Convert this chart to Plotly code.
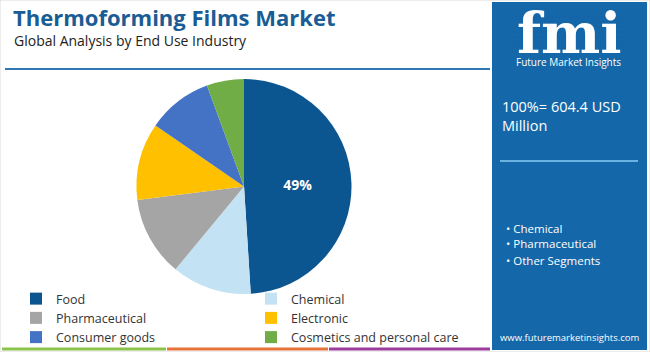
import plotly.graph_objects as go

categories = ["Food", "Chemical", "Pharmaceutical", "Electronic", "Consumer goods", "Cosmetics and personal care"]
shares = [49.0, 12.0, 12.0, 11.6, 9.8, 5.6]
colors = ["#0b5590", "#c3e2f4", "#a5a5a5", "#ffc000", "#4472c4", "#70ad47"]
slice_labels = ["49%", "", "", "", "", ""]

W, H = 650, 352
def px(x):
    return x / W
def py(y):
    return 1 - y / H

fig = go.Figure()
fig.add_trace(go.Pie(
    labels=categories, values=shares, sort=False, direction="clockwise", rotation=0,
    marker=dict(colors=colors, line=dict(width=0)),
    text=slice_labels, texttemplate="%{text}", textinfo="text", textposition="inside",
    insidetextfont=dict(family="Open Sans", size=14, color="white", weight="bold"),
    insidetextorientation="horizontal",
    domain=dict(x=[px(136), px(352)], y=[py(294), py(79)]),
    hoverinfo="label+percent",
))

shapes = []
shapes.append(dict(type="rect", xref="paper", yref="paper", x0=0, x1=1, y0=0, y1=1,
                   line=dict(color="#d9d9d9", width=1), fillcolor="rgba(0,0,0,0)"))
shapes.append(dict(type="line", xref="paper", yref="paper", x0=px(5), x1=px(490), y0=py(69), y1=py(69),
                   line=dict(color="#2f78b4", width=2)))
shapes.append(dict(type="rect", xref="paper", yref="paper", x0=px(492), x1=px(647), y0=py(350), y1=py(2),
                   line=dict(width=0), fillcolor="#1467a8", layer="below"))
shapes.append(dict(type="line", xref="paper", yref="paper", x0=px(500), x1=px(638), y0=py(161), y1=py(161),
                   line=dict(color="#6ab2e2", width=2)))
for x0, x1, c in [(2, 166, "#8bc34a"), (167, 328, "#e8733a"), (329, 490, "#9c3d9e")]:
    shapes.append(dict(type="line", xref="paper", yref="paper", x0=px(x0), x1=px(x1), y0=py(349), y1=py(349),
                       line=dict(color=c, width=3)))

annotations = [
    dict(text="<b>Thermoforming Films Market</b>", x=px(11), y=py(17), xanchor="left", yanchor="middle",
         font=dict(family="Open Sans", size=22, color="#1a5c94")),
    dict(text="Global Analysis by End Use Industry", x=px(12), y=py(40), xanchor="left", yanchor="middle",
         font=dict(family="Open Sans", size=14, color="#222222")),
    dict(text="<b>fmi</b>", x=px(569), y=py(33), xanchor="center", yanchor="middle",
         font=dict(family="DejaVu Serif", size=56, color="white")),
    dict(text="Future Market Insights", x=px(568), y=py(62), xanchor="center", yanchor="middle",
         font=dict(family="Open Sans", size=10, color="white")),
    dict(text="100%= 604.4 USD<br>Million", x=px(500), y=py(116), xanchor="left", yanchor="middle", align="left",
         font=dict(family="Open Sans", size=14.5, color="white")),
    dict(text="• Chemical", x=px(504), y=py(229), xanchor="left", yanchor="middle",
         font=dict(family="Open Sans", size=11.5, color="white")),
    dict(text="• Pharmaceutical", x=px(504), y=py(243), xanchor="left", yanchor="middle",
         font=dict(family="Open Sans", size=11.5, color="white")),
    dict(text="• Other Segments", x=px(504), y=py(260), xanchor="left", yanchor="middle",
         font=dict(family="Open Sans", size=11.5, color="white")),
    dict(text="www.futuremarketinsights.com", x=px(570), y=py(337), xanchor="center", yanchor="middle",
         font=dict(family="Open Sans", size=9.5, color="white")),
]
for a in annotations:
    a.update(xref="paper", yref="paper", showarrow=False)

for yy in range(17, 56, 5):
    shapes.append(dict(type="line", xref="paper", yref="paper", x0=px(512), x1=px(628), y0=py(yy), y1=py(yy),
                       line=dict(color="#1467a8", width=1), layer="above"))

fig.update_layout(
    width=W, height=H, margin=dict(l=0, r=0, t=0, b=0),
    paper_bgcolor="white", plot_bgcolor="white",
    shapes=shapes, annotations=annotations,
    showlegend=True,
    legend=dict(orientation="h", x=px(16), y=py(284), xanchor="left", yanchor="top",
                entrywidth=190, entrywidthmode="pixels", traceorder="normal",
                font=dict(family="Open Sans", size=12.5, color="#333333"),
                bgcolor="rgba(0,0,0,0)", itemclick=False, itemdoubleclick=False),
)

fig.write_html("out.html")
